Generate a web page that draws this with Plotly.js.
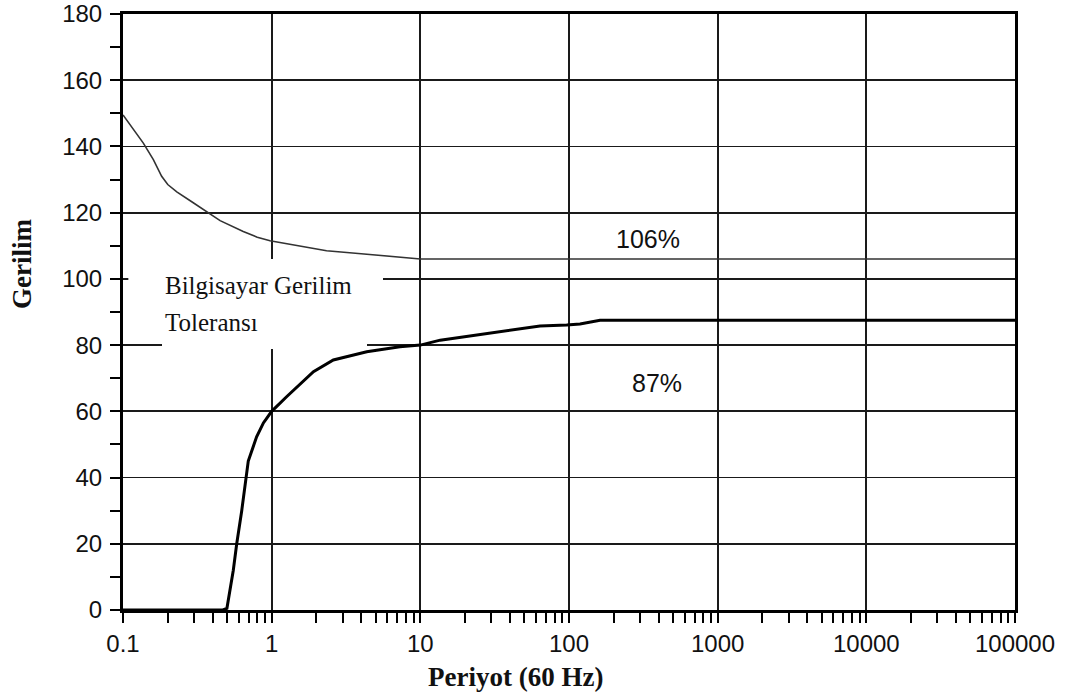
<!DOCTYPE html>
<html>
<head>
<meta charset="utf-8">
<script src="https://cdn.plot.ly/plotly-3.0.1.min.js"></script>
<style>
  html, body { margin: 0; padding: 0; background: #fff; }
  #chart { width: 1071px; height: 695px; }
</style>
</head>
<body>
<div id="chart"></div>
<script>
// Upper tolerance curve (106%)
const upperX = [0.1, 0.137, 0.16, 0.182, 0.2, 0.23, 0.29, 0.366, 0.45, 0.644, 0.8, 0.975, 1.5, 2.34, 4, 6.58, 10, 100000];
const upperY = [149.5, 141, 136, 131, 128.5, 126.3, 123.3, 120.3, 117.6, 114.3, 112.6, 111.5, 110.1, 108.5, 107.6, 106.7, 106, 106];

// Lower tolerance curve (87%)
const lowerX = [0.1, 0.47, 0.5, 0.552, 0.582, 0.629, 0.696, 0.792, 0.88, 1, 1.26, 1.91, 2.6, 4.36, 7.29, 10, 13.6, 29.4, 63.8, 96.4, 118.6, 161.8, 100000];
const lowerY = [0, 0, 0.5, 12, 20, 30, 45, 52.3, 56.5, 60, 64.4, 72, 75.5, 78, 79.5, 80, 81.5, 83.6, 85.8, 86.1, 86.4, 87.5, 87.5];

// Axis ticks
const xTickVals = [0.1, 1, 10, 100, 1000, 10000, 100000];
const xTickText = ["0.1", "1", "10", "100", "1000", "10000", "100000"];
const yTickVals = [0, 20, 40, 60, 80, 100, 120, 140, 160, 180];
const yMinorVals = [10, 30, 50, 70, 90, 110, 130, 150, 170];

// Labels
const boxLine1 = "Bilgisayar Gerilim";
const boxLine2 = "Toleransı";
const label106 = "106%";
const label87 = "87%";
const xTitle = "Periyot (60 Hz)";
const yTitle = "Gerilim";

const xMinorVals = [];
for (let d = -1; d < 5; d++) {
  for (let k = 2; k <= 9; k++) xMinorVals.push(k * Math.pow(10, d));
}

const traces = [
  {
    x: upperX, y: upperY, type: 'scatter', mode: 'lines',
    line: { color: '#333', width: 1.6 },
    hoverinfo: 'skip', showlegend: false
  },
  {
    x: lowerX, y: lowerY, type: 'scatter', mode: 'lines',
    line: { color: '#000', width: 3 },
    hoverinfo: 'skip', showlegend: false
  }
];

const sans = 'Liberation Sans, Arial, sans-serif';
const serif = 'Liberation Serif, Times New Roman, serif';
const tickFont = { family: sans, size: 24, color: '#111' };

const layout = {
  width: 1071, height: 695,
  margin: { l: 123, r: 56, t: 14, b: 85 },
  paper_bgcolor: '#fff', plot_bgcolor: '#fff',
  showlegend: false,
  xaxis: {
    type: 'log', range: [-1, 5],
    tickmode: 'array', tickvals: xTickVals, ticktext: xTickText,
    ticks: 'outside', ticklen: 10, tickwidth: 2, tickcolor: '#000',
    minor: { tickmode: 'array', tickvals: xMinorVals, ticks: 'outside', ticklen: 10, tickwidth: 2, tickcolor: '#000', showgrid: false },
    showgrid: true, gridcolor: '#1a1a1a', gridwidth: 1.8,
    showline: true, linecolor: '#000', linewidth: 3, mirror: true,
    tickfont: tickFont, zeroline: false, fixedrange: true
  },
  xaxis2: {
    type: 'log', range: [-1, 5], overlaying: 'x', anchor: 'y', side: 'bottom',
    tickmode: 'array', tickvals: xMinorVals, ticks: 'inside', ticklen: 8, tickwidth: 2, tickcolor: '#000',
    showticklabels: false, showgrid: false, showline: false, zeroline: false, fixedrange: true
  },
  yaxis: {
    range: [0, 180],
    tickmode: 'array', tickvals: yTickVals,
    ticks: 'outside', ticklen: 10, tickwidth: 2, tickcolor: '#000',
    minor: { tickmode: 'array', tickvals: yMinorVals, ticks: 'outside', ticklen: 10, tickwidth: 2, tickcolor: '#000', showgrid: false },
    showgrid: true, gridcolor: '#1a1a1a', gridwidth: 1.8,
    showline: true, linecolor: '#000', linewidth: 3, mirror: true,
    tickfont: tickFont, zeroline: false, fixedrange: true, ticklabelstandoff: 3
  },
  yaxis2: {
    range: [0, 180], overlaying: 'y', anchor: 'x', side: 'left',
    tickmode: 'array', tickvals: yTickVals.concat(yMinorVals), ticks: 'inside', ticklen: 9, tickwidth: 2, tickcolor: '#000',
    showticklabels: false, showgrid: false, showline: false, zeroline: false, fixedrange: true
  },
  shapes: [
    { type: 'rect', xref: 'paper', yref: 'paper', x0: 0.006, x1: (383 - 123) / 892, y0: (610 - 300) / 596, y1: (610 - 259) / 596,
      fillcolor: '#fff', line: { width: 0 }, layer: 'above' },
    { type: 'rect', xref: 'paper', yref: 'paper', x0: (162 - 123) / 892, x1: (367 - 123) / 892, y0: (610 - 349) / 596, y1: (610 - 299) / 596,
      fillcolor: '#fff', line: { width: 0 }, layer: 'above' }
  ],
  annotations: [
    { text: boxLine1, xref: 'paper', yref: 'paper', x: (163 - 123) / 892, y: (610 - 285) / 596,
      xanchor: 'left', yanchor: 'middle', showarrow: false,
      font: { family: serif, size: 25, color: '#111' } },
    { text: boxLine2, xref: 'paper', yref: 'paper', x: (163 - 123) / 892, y: (610 - 322) / 596,
      xanchor: 'left', yanchor: 'middle', showarrow: false,
      font: { family: serif, size: 25, color: '#111' } },
    { text: label106, xref: 'paper', yref: 'paper', x: (648 - 123) / 892, y: (610 - 239) / 596,
      xanchor: 'center', yanchor: 'middle', showarrow: false, font: { family: sans, size: 25, color: '#111' } },
    { text: label87, xref: 'paper', yref: 'paper', x: (657 - 123) / 892, y: (610 - 383) / 596,
      xanchor: 'center', yanchor: 'middle', showarrow: false, font: { family: sans, size: 25, color: '#111' } },
    { text: '<b>' + xTitle + '</b>', xref: 'paper', yref: 'paper', x: (515 - 123) / 892, y: (610 - 677) / 596,
      xanchor: 'center', yanchor: 'middle', showarrow: false,
      font: { family: serif, size: 27, color: '#111' } },
    { text: '<b>' + yTitle + '</b>', xref: 'paper', yref: 'paper', x: (22 - 123) / 892, y: (610 - 264) / 596,
      xanchor: 'center', yanchor: 'middle', showarrow: false, textangle: -90,
      font: { family: serif, size: 27, color: '#111' } }
  ]
};

Plotly.newPlot('chart', traces, layout, { displayModeBar: false, staticPlot: true });
</script>
</body>
</html>
